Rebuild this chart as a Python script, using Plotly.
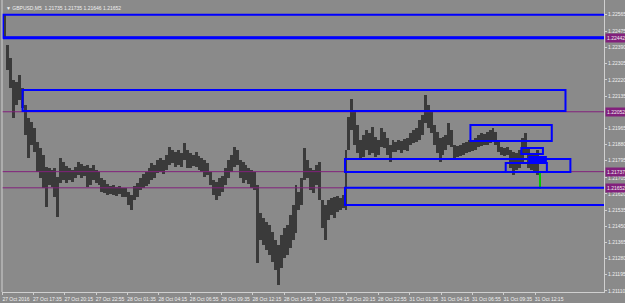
import plotly.graph_objects as go

# ---- data (GBPUSD M5, sampled every 3 bars: high / low) ----
highs = [1.22561,1.22403,1.22335,1.22219,1.22209,1.22246,1.22177,1.22088,1.22019,1.21998,
1.21967,1.21893,1.21862,1.21825,1.21762,1.21756,1.21746,1.21756,1.21709,1.21809,
1.21788,1.21767,1.21756,1.21746,1.21762,1.21788,1.21777,1.21767,1.21772,1.21756,
1.21772,1.21746,1.21735,1.21704,1.21693,1.21672,1.21662,1.21667,1.21656,1.21662,
1.21651,1.21651,1.21630,1.21614,1.21662,1.21677,1.21704,1.21725,1.21735,1.21756,
1.21783,1.21772,1.21798,1.21809,1.21798,1.21825,1.21867,1.21851,1.21840,1.21851,
1.21835,1.21888,1.21851,1.21835,1.21825,1.21840,1.21819,1.21809,1.21798,1.21783,
1.21735,1.21693,1.21683,1.21704,1.21714,1.21756,1.21798,1.21825,1.21867,1.21851,
1.21798,1.21788,1.21772,1.21756,1.21746,1.21735,1.21667,1.21520,1.21493,1.21472,
1.21457,1.21420,1.21378,1.21351,1.21404,1.21441,1.21457,1.21509,1.21562,1.21667,
1.21630,1.21704,1.21862,1.21798,1.21756,1.21746,1.21772,1.21788,1.21588,1.21562,
1.21588,1.21599,1.21604,1.21609,1.21599,1.21614,1.21851,1.22025,1.22119,1.22061,
1.21983,1.21904,1.21930,1.21956,1.21940,1.21972,1.21919,1.21904,1.21967,1.21946,
1.21914,1.21877,1.21904,1.21893,1.21904,1.21898,1.21909,1.21914,1.21940,1.21956,
1.21967,1.22009,1.22035,1.22140,1.22088,1.22051,1.21983,1.21946,1.21914,1.21919,
1.21930,1.21993,1.21956,1.21877,1.21872,1.21877,1.21888,1.21893,1.21904,1.21898,
1.21914,1.21930,1.21940,1.21935,1.21946,1.21956,1.21967,1.21946,1.21904,1.21867,
1.21862,1.21867,1.21851,1.21840,1.21835,1.21851,1.21914,1.21940,1.21862,1.21835,
1.21825,1.21851,1.21735]

lows = [1.22440,1.22272,1.22177,1.22019,1.22088,1.22114,1.22072,1.21930,1.21809,1.21877,
1.21840,1.21735,1.21704,1.21651,1.21551,1.21667,1.21656,1.21604,1.21499,1.21677,
1.21693,1.21677,1.21693,1.21683,1.21704,1.21720,1.21704,1.21714,1.21656,1.21667,
1.21693,1.21677,1.21667,1.21630,1.21625,1.21614,1.21620,1.21614,1.21609,1.21620,
1.21604,1.21604,1.21562,1.21535,1.21588,1.21604,1.21641,1.21651,1.21662,1.21672,
1.21693,1.21704,1.21730,1.21735,1.21725,1.21746,1.21772,1.21783,1.21762,1.21772,
1.21762,1.21798,1.21756,1.21756,1.21767,1.21762,1.21746,1.21735,1.21709,1.21720,
1.21667,1.21614,1.21588,1.21609,1.21630,1.21667,1.21704,1.21735,1.21762,1.21772,
1.21704,1.21677,1.21693,1.21672,1.21651,1.21641,1.21257,1.21378,1.21351,1.21325,
1.21299,1.21262,1.21220,1.21141,1.21230,1.21283,1.21299,1.21336,1.21378,1.21414,
1.21535,1.21562,1.21693,1.21704,1.21641,1.21625,1.21667,1.21588,1.21441,1.21378,
1.21483,1.21509,1.21493,1.21525,1.21535,1.21546,1.21535,1.21851,1.21956,1.21877,
1.21835,1.21798,1.21814,1.21851,1.21825,1.21835,1.21814,1.21825,1.21867,1.21862,
1.21825,1.21788,1.21840,1.21840,1.21851,1.21835,1.21851,1.21846,1.21877,1.21888,
1.21893,1.21904,1.21930,1.21993,1.21967,1.21940,1.21877,1.21835,1.21788,1.21825,
1.21851,1.21877,1.21867,1.21809,1.21814,1.21819,1.21825,1.21835,1.21840,1.21846,
1.21851,1.21867,1.21872,1.21877,1.21877,1.21888,1.21893,1.21877,1.21840,1.21825,
1.21819,1.21825,1.21756,1.21720,1.21746,1.21756,1.21788,1.21825,1.21756,1.21746,
1.21735,1.21720,1.21646]

BAR_STEP = 3
bars = [BAR_STEP * (i + 1) for i in range(len(highs))]

time_labels = ["27 Oct 2016", "27 Oct 17:35", "27 Oct 20:15", "27 Oct 22:55",
               "28 Oct 01:35", "28 Oct 04:15", "28 Oct 06:55", "28 Oct 09:35",
               "28 Oct 12:15", "28 Oct 14:55", "28 Oct 17:35", "28 Oct 20:15",
               "28 Oct 22:55", "31 Oct 01:35", "31 Oct 04:15", "31 Oct 06:55",
               "31 Oct 09:35", "31 Oct 12:15"]
time_ticks = [32 * i for i in range(len(time_labels))]

price_ticks = [1.22565, 1.22475, 1.22390, 1.22305, 1.22220, 1.22135, 1.21965,
               1.21880, 1.21795, 1.21705, 1.21620, 1.21535, 1.21450, 1.21365,
               1.21280, 1.21195, 1.21110]
marked_prices = [1.22442, 1.22052, 1.21737, 1.21652]
level_lines = [1.22052, 1.21737, 1.21652]

# zones: start bar, end bar (None = extends right), top, bottom
zone_start = [1, 21, 478, 350, 350, 530, 538, 514]
zone_end = [None, 575, 561, 580, None, 552, 555, 556]
zone_top = [1.22562, 1.22167, 1.21983, 1.21804, 1.21652, 1.21862, 1.21814, 1.21783]
zone_bottom = [1.22442, 1.22056, 1.21898, 1.21735, 1.21562, 1.21830, 1.21793, 1.21735]

header = "▼ GBPUSD,M5  1.21735 1.21735 1.21646 1.21652"

# ---- styling ----
BG = "#8a8a8a"
CANDLE = "#3a3a3a"
LAST = "#00c800"
BLUE = "#0000ff"
PURPLE = "#82207c"
TXT = "#f0f0f0"
FONT = "Liberation Sans"
X_MAX = 614.3
Y_MIN, Y_MAX = 1.21104, 1.22640

colors = [CANDLE] * len(highs)
colors[-1] = LAST

fig = go.Figure()
fig.add_trace(go.Bar(
    x=bars,
    y=[h - l for h, l in zip(highs, lows)],
    base=lows,
    width=[3.0] * (len(highs) - 1) + [1.2],
    marker=dict(color=colors, line=dict(width=0)),
    hoverinfo="skip",
    showlegend=False,
))

shapes = []
for p in level_lines:
    shapes.append(dict(type="line", xref="paper", x0=0, x1=1, yref="y", y0=p, y1=p,
                       line=dict(color=PURPLE, width=1), layer="above"))
for x0, x1, y0, y1 in zip(zone_start, zone_end, zone_top, zone_bottom):
    shapes.append(dict(type="rect", xref="x", x0=x0, x1=(X_MAX + 5 if x1 is None else x1),
                       yref="y", y0=y0, y1=y1,
                       line=dict(color=BLUE, width=2), fillcolor="rgba(0,0,0,0)", layer="above"))
# thick bottom of top zone
shapes.append(dict(type="line", xref="x", x0=zone_start[0], x1=X_MAX, yref="y",
                   y0=zone_bottom[0], y1=zone_bottom[0],
                   line=dict(color=BLUE, width=3), layer="above"))
# frame (left)
shapes.append(dict(type="line", xref="paper", yref="paper", x0=0, x1=0, y0=0, y1=1,
                   line=dict(color="#d0d0d0", width=1)))

annotations = [dict(xref="paper", yref="paper", x=0, y=1, xanchor="left", yanchor="top",
                    xshift=2, yshift=-3, text=header, showarrow=False,
                    font=dict(family=FONT, size=5, color=TXT))]
for p in marked_prices:
    annotations.append(dict(xref="paper", yref="y", x=1, y=p, xanchor="left", yanchor="middle",
                            xshift=1, text=f"{p:.5f}", showarrow=False, bgcolor=PURPLE,
                            borderpad=1, font=dict(family=FONT, size=5, color=TXT)))

fig.update_layout(
    width=625, height=303,
    margin=dict(l=2, r=21, t=0, b=11),
    paper_bgcolor=BG, plot_bgcolor=BG,
    bargap=0,
    shapes=shapes,
    annotations=annotations,
    xaxis=dict(range=[0, X_MAX], tickvals=time_ticks, ticktext=time_labels,
               ticks="outside", ticklen=2, tickcolor="#d0d0d0",
               ticklabelshift=14, ticklabelstandoff=0,
               tickfont=dict(family=FONT, size=5, color=TXT),
               showgrid=False, zeroline=False, showline=True, linecolor="#d0d0d0",
               linewidth=1, fixedrange=True),
    yaxis=dict(range=[Y_MIN, Y_MAX], side="right", tickvals=price_ticks,
               ticktext=[f"{p:.5f}" for p in price_ticks],
               ticks="outside", ticklen=2, tickcolor="#d0d0d0",
               tickfont=dict(family=FONT, size=5, color=TXT),
               showgrid=False, zeroline=False, showline=True, linecolor="#d0d0d0",
               linewidth=1, fixedrange=True),
)

fig.write_html("out.html", config={"displayModeBar": False})
